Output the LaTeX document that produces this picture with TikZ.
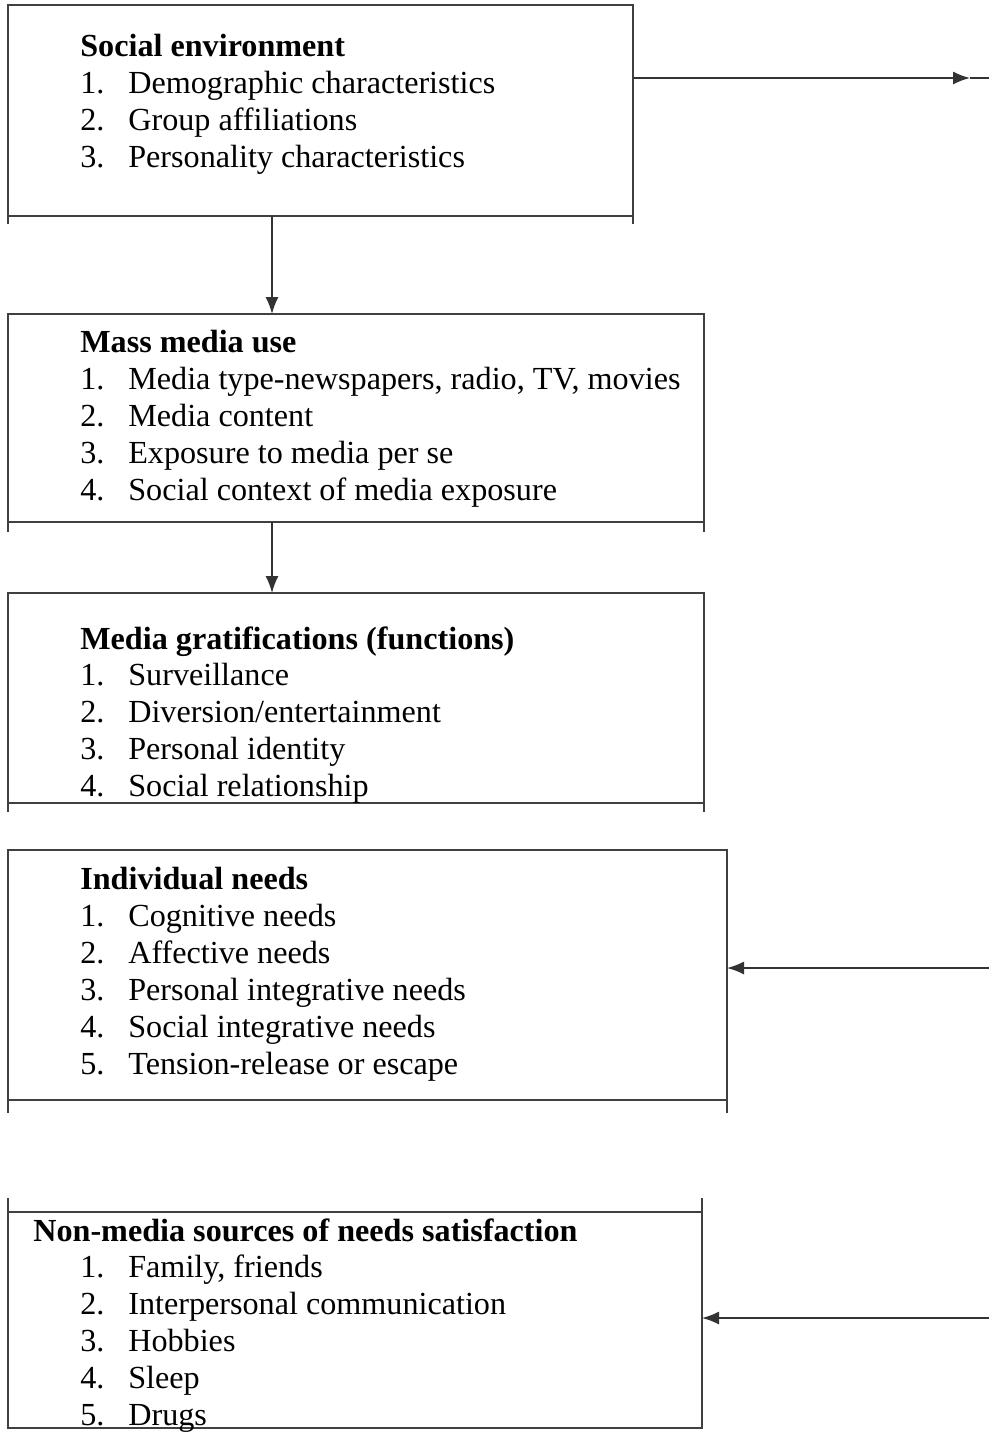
\documentclass[tikz,border=0pt]{standalone}
\usepackage{fontspec}
\setmainfont{Liberation Serif}
\usetikzlibrary{arrows.meta}
\newcommand{\itm}[2]{\makebox[0.96cm][l]{#1.}#2}

\begin{document}
\begin{tikzpicture}[
		mybox/.style={draw=black!75, line width=0.9pt, inner sep=0pt, outer sep=0pt},
		mytext/.style={anchor=north west, inner sep=0pt, align=left, font=\fontsize{18.3}{21}\selectfont},
		myarrow/.style={-{Latex[length=3.4mm,width=2.6mm]}, draw=black!80, line width=0.9pt}
	]

	\useasboundingbox (0,0) rectangle (19.78,-28.68);

	% boxes
	\node[mybox, minimum width=12.5cm, minimum height=4.22cm] (b1) at (6.41,-2.21) {};
	\node[mybox, minimum width=13.92cm, minimum height=4.16cm] (b2) at (7.12,-8.36) {};
	\node[mybox, minimum width=13.92cm, minimum height=4.2cm] (b3) at (7.12,-13.96) {};
	\node[mybox, minimum width=14.38cm, minimum height=5cm] (b4) at (7.35,-19.5) {};
	\node[mybox, minimum width=13.88cm, minimum height=4.32cm] (b5) at (7.10,-26.40) {};

	\draw[draw=black!75, line width=0.9pt] (b1.south west) -- ++(0,-0.16);
	\draw[draw=black!75, line width=0.9pt] (b1.south east) -- ++(0,-0.16);
	\draw[draw=black!75, line width=0.9pt] (b2.south west) -- ++(0,-0.2);
	\draw[draw=black!75, line width=0.9pt] (b2.south east) -- ++(0,-0.2);
	\draw[draw=black!75, line width=0.9pt] (b3.south west) -- ++(0,-0.18);
	\draw[draw=black!75, line width=0.9pt] (b3.south east) -- ++(0,-0.18);
	\draw[draw=black!75, line width=0.9pt] (b4.south west) -- ++(0,-0.26);
	\draw[draw=black!75, line width=0.9pt] (b4.south east) -- ++(0,-0.26);
	\draw[draw=black!75, line width=0.9pt] (b5.north west) -- ++(0,0.28);
	\draw[draw=black!75, line width=0.9pt] (b5.north east) -- ++(0,0.28);

	% texts
	\node[mytext] (t1) at (1.60,-0.68) {\textbf{Social environment}\\
		\itm{1}{Demographic characteristics}\\
		\itm{2}{Group affiliations}\\
		\itm{3}{Personality characteristics}};

	\node[mytext] (t2) at (1.60,-6.60) {\textbf{Mass media use}\\
		\itm{1}{Media type-newspapers, radio, TV, movies}\\
		\itm{2}{Media content}\\
		\itm{3}{Exposure to media per se}\\
		\itm{4}{Social context of media exposure}};

	\node[mytext] (t3) at (1.60,-12.52) {\textbf{Media gratifications (functions)}\\
		\itm{1}{Surveillance}\\
		\itm{2}{Diversion/entertainment}\\
		\itm{3}{Personal identity}\\
		\itm{4}{Social relationship}};

	\node[mytext] (t4) at (1.60,-17.34) {\textbf{Individual needs}\\
		\itm{1}{Cognitive needs}\\
		\itm{2}{Affective needs}\\
		\itm{3}{Personal integrative needs}\\
		\itm{4}{Social integrative needs}\\
		\itm{5}{Tension-release or escape}};

	\node[mytext] (t5) at (0.66,-24.36) {\textbf{Non-media sources of needs satisfaction}\\
		\hspace*{0.94cm}\itm{1}{Family, friends}\\
		\hspace*{0.94cm}\itm{2}{Interpersonal communication}\\
		\hspace*{0.94cm}\itm{3}{Hobbies}\\
		\hspace*{0.94cm}\itm{4}{Sleep}\\
		\hspace*{0.94cm}\itm{5}{Drugs}};

	% connectors
	\coordinate (dx) at (5.44,0);
	\coordinate (r1) at (19.40,-1.56);
	\coordinate (e1) at (19.78,-1.56);
	\coordinate (e4) at (19.78,-19.36);
	\coordinate (e5) at (19.78,-26.36);

	\draw[myarrow] (b1.south -| dx) -- (b2.north -| dx);
	\draw[myarrow] (b2.south -| dx) -- (b3.north -| dx);
	\draw[myarrow] (r1 -| b1.east) -- (r1);
	\draw[draw=black!80, line width=0.9pt] (r1) -- (e1);
	\draw[myarrow] (e4) -- (e4 -| b4.east);
	\draw[myarrow] (e5) -- (e5 -| b5.east);

\end{tikzpicture}
\end{document}
